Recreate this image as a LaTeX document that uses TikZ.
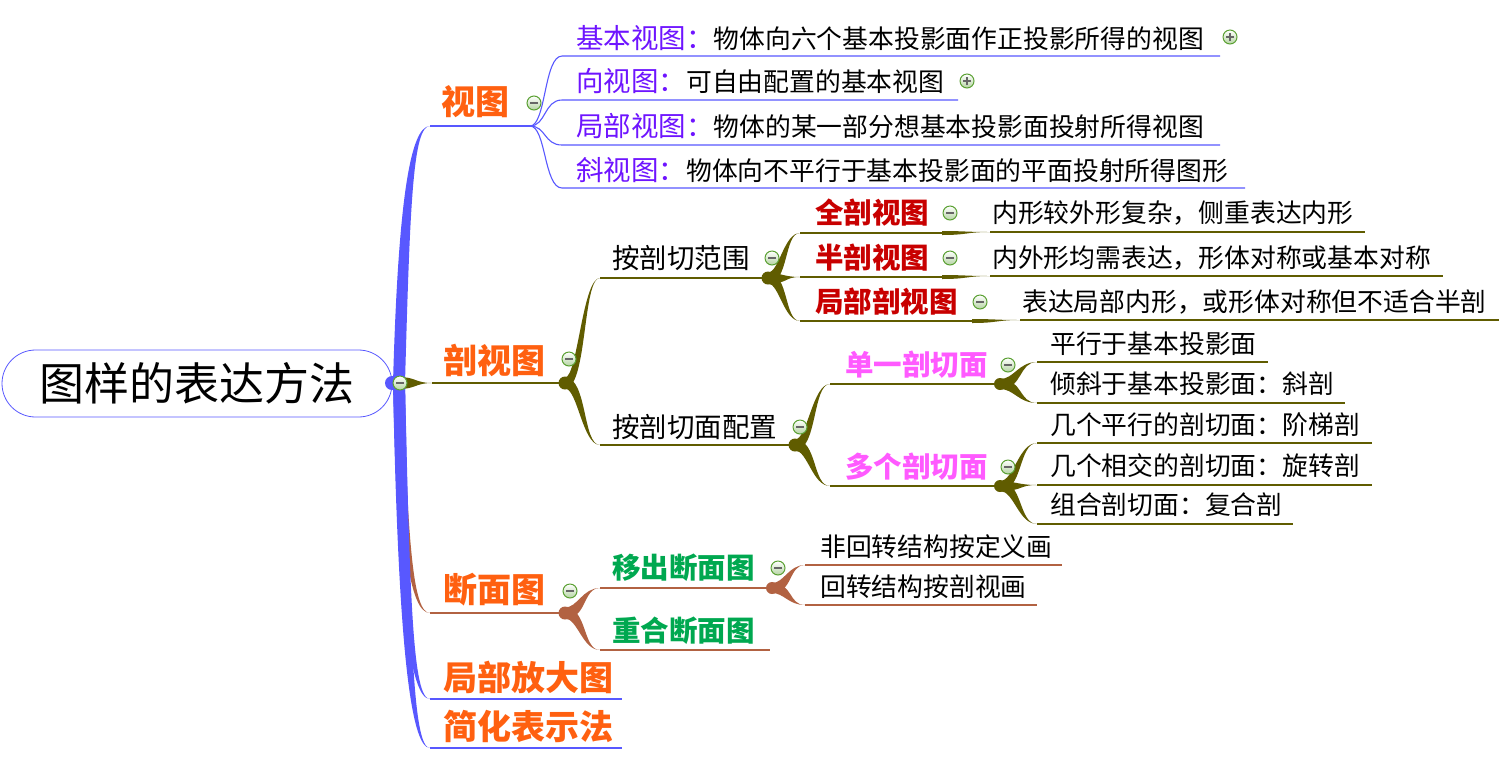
\documentclass[tikz,border=0pt]{standalone}
\usepackage{fontspec}
\newfontfamily\cjk{Noto Sans CJK SC}
\usetikzlibrary{calc}
\definecolor{trunkblue}{RGB}{88,88,255}
\definecolor{olive2}{RGB}{96,92,0}
\definecolor{brownb}{RGB}{178,98,66}
\definecolor{orangeT}{RGB}{255,96,16}
\definecolor{purpT}{RGB}{110,20,255}
\definecolor{redT}{RGB}{200,0,0}
\definecolor{pinkT}{RGB}{255,90,255}
\definecolor{greenT}{RGB}{0,168,80}
\definecolor{iconG}{RGB}{90,160,50}
% tapered branch leaving a junction horizontally
\newcommand\brwedge[4]{%
  \fill[#4] let \p1=(#1), \p2=(#2), \n1={0.5*(\x2-\x1)}, \n2={0.9*#3*sign(\y2-\y1)} in
    (\x1,{\y1+#3}) .. controls ({\x1+\n1-\n2},{\y1+#3}) and ({\x2-\n1},\y2) .. (\x2,\y2)
    .. controls ({\x2-\n1},\y2) and ({\x1+\n1+\n2},{\y1-#3}) .. (\x1,{\y1-#3}) -- cycle;}
% tapered trunk leaving the root vertically
\newcommand\trunkto[4]{%
  \fill[#4] let \p1=(#1), \p2=(#2) in
    ({\x1-#3},\y1) .. controls ({\x1-#3+5},{\y1+0.7*(\y2-\y1)}) and ({\x1+11},\y2) .. (\x2,\y2)
    .. controls ({\x1+14},\y2) and ({\x1+#3+5},{\y1+0.7*(\y2-\y1)}) .. ({\x1+#3},\y1) -- cycle;}
\newcommand\lab[1]{{\fontsize{27.5}{30}\selectfont\color{purpT}#1}}
\begin{document}
\begin{tikzpicture}[x=1pt,y=-1pt,
 every node/.style={inner sep=0pt, anchor=west},
 fA/.style={font=\cjk\bfseries\fontsize{34}{37}\selectfont, text=orangeT},
 fB/.style={font=\cjk\fontsize{25.8}{28}\selectfont, text=black},
 fC/.style={font=\cjk\fontsize{27.5}{30}\selectfont, text=black},
 fR/.style={font=\cjk\bfseries\fontsize{28.5}{30}\selectfont, text=redT},
 fP/.style={font=\cjk\bfseries\fontsize{28.5}{30}\selectfont, text=pinkT},
 fG/.style={font=\cjk\bfseries\fontsize{28.5}{30}\selectfont, text=greenT},
 bl/.style={draw=trunkblue, line width=1.4pt},
 ol/.style={draw=olive2, line width=1.5pt},
 br/.style={draw=brownb, line width=1.5pt},
 icon/.style={circle, draw=iconG, line width=1pt, minimum size=14pt, inner sep=0pt, anchor=center, top color=white, bottom color=iconG!45},
 minus/.style={icon, path picture={\draw[line width=1.3pt,black!60] ([xshift=-4pt]path picture bounding box.center) -- ([xshift=4pt]path picture bounding box.center);}},
 plus/.style={icon, path picture={\draw[line width=1.3pt,black!60] ([xshift=-4pt]path picture bounding box.center) -- ([xshift=4pt]path picture bounding box.center) ([yshift=-4pt]path picture bounding box.center) -- ([yshift=4pt]path picture bounding box.center);}},
]
\useasboundingbox (0,0) rectangle (1511,764);

% ---------- coordinates ----------
\coordinate (rj) at (399,383);
% 视图
\coordinate (stL) at (430,126); \coordinate (stR) at (530,126);
\coordinate (s1L) at (562,56);  \coordinate (s1R) at (1220,56);
\coordinate (s2L) at (562,100); \coordinate (s2R) at (958,100);
\coordinate (s3L) at (562,145); \coordinate (s3R) at (1220,145);
\coordinate (s4L) at (562,188); \coordinate (s4R) at (1245,188);
% 剖视图
\coordinate (pL) at (432,383);  \coordinate (pJ) at (565,383);
\coordinate (aL) at (600,278);  \coordinate (aJ) at (768,278);
\coordinate (qL) at (800,233);  \coordinate (qR) at (942,233);
\coordinate (qlL) at (990,232); \coordinate (qlR) at (1365,232);
\coordinate (bL) at (800,277);  \coordinate (bR) at (942,277);
\coordinate (blL) at (990,276); \coordinate (blR) at (1443,276);
\coordinate (jL) at (800,321);  \coordinate (jR) at (972,321);
\coordinate (jlL) at (1020,320); \coordinate (jlR) at (1499,320);
\coordinate (cL) at (600,445);  \coordinate (cJ) at (795,445);
\coordinate (dL) at (830,384);  \coordinate (dJ) at (1000,384);
\coordinate (d1L) at (1037,362); \coordinate (d1R) at (1268,362);
\coordinate (d2L) at (1037,403); \coordinate (d2R) at (1345,403);
\coordinate (mL) at (830,486);  \coordinate (mJ) at (1000,486);
\coordinate (m1L) at (1037,443); \coordinate (m1R) at (1372,443);
\coordinate (m2L) at (1037,485); \coordinate (m2R) at (1372,485);
\coordinate (m3L) at (1037,524); \coordinate (m3R) at (1293,524);
% 断面图
\coordinate (uL) at (430,613);  \coordinate (uJ) at (565,613);
\coordinate (yL) at (600,588);  \coordinate (yJ) at (772,588);
\coordinate (y1L) at (805,565); \coordinate (y1R) at (1062,565);
\coordinate (y2L) at (805,605); \coordinate (y2R) at (1037,605);
\coordinate (zL) at (600,650);  \coordinate (zR) at (770,650);
% others
\coordinate (fL) at (430,699);  \coordinate (fR) at (622,699);
\coordinate (hL) at (430,748);  \coordinate (hR) at (622,748);

% ---------- connectors ----------
% brown
\trunkto{rj}{uL}{4}{brownb}
\draw[br] (uL) -- (uJ);
\fill[brownb] (uJ) circle (6.5pt);
\brwedge{uJ}{yL}{5.5}{brownb} \draw[br] (yL) -- (yJ);
\brwedge{uJ}{zL}{5.5}{brownb} \draw[br] (zL) -- (zR);
\fill[brownb] (yJ) circle (6pt);
\brwedge{yJ}{y1L}{5}{brownb} \draw[br] (y1L) -- (y1R);
\brwedge{yJ}{y2L}{5}{brownb} \draw[br] (y2L) -- (y2R);
% olive
\brwedge{rj}{pL}{6}{olive2}
\draw[ol] (pL) -- (pJ);
\fill[olive2] (pJ) circle (6.5pt);
\brwedge{pJ}{aL}{5.5}{olive2} \draw[ol] (aL) -- (aJ);
\brwedge{pJ}{cL}{5.5}{olive2} \draw[ol] (cL) -- (cJ);
\fill[olive2] (aJ) circle (6.5pt);
\brwedge{aJ}{qL}{5.5}{olive2} \draw[ol] (qL) -- (qR);
\brwedge{aJ}{bL}{5.5}{olive2} \draw[ol] (bL) -- (bR);
\brwedge{aJ}{jL}{5.5}{olive2} \draw[ol] (jL) -- (jR);
\brwedge{qR}{qlL}{2}{olive2} \draw[ol] (qlL) -- (qlR);
\brwedge{bR}{blL}{2}{olive2} \draw[ol] (blL) -- (blR);
\brwedge{jR}{jlL}{2}{olive2} \draw[ol] (jlL) -- (jlR);
\fill[olive2] (cJ) circle (6.5pt);
\brwedge{cJ}{dL}{5.5}{olive2} \draw[ol] (dL) -- (dJ);
\brwedge{cJ}{mL}{5.5}{olive2} \draw[ol] (mL) -- (mJ);
\fill[olive2] (dJ) circle (6pt);
\brwedge{dJ}{d1L}{5}{olive2} \draw[ol] (d1L) -- (d1R);
\brwedge{dJ}{d2L}{5}{olive2} \draw[ol] (d2L) -- (d2R);
\fill[olive2] (mJ) circle (6pt);
\brwedge{mJ}{m1L}{5}{olive2} \draw[ol] (m1L) -- (m1R);
\brwedge{mJ}{m2L}{5}{olive2} \draw[ol] (m2L) -- (m2R);
\brwedge{mJ}{m3L}{5}{olive2} \draw[ol] (m3L) -- (m3R);
% blue
\trunkto{rj}{stL}{6}{trunkblue}
\trunkto{rj}{fL}{6}{trunkblue}
\trunkto{rj}{hL}{6}{trunkblue}
\draw[bl] (stL) -- (stR);
\draw[bl] (fL) -- (fR);
\draw[bl] (hL) -- (hR);
\draw[bl, line width=1.1pt] (stR) .. controls +(16,0) and +(-18,0) .. (s1L) -- (s1R);
\draw[bl, line width=1.1pt] (stR) .. controls +(16,0) and +(-18,0) .. (s2L) -- (s2R);
\draw[bl, line width=1.1pt] (stR) .. controls +(16,0) and +(-18,0) .. (s3L) -- (s3R);
\draw[bl, line width=1.1pt] (stR) .. controls +(16,0) and +(-18,0) .. (s4L) -- (s4R);
\fill[trunkblue] (392,383) circle (7pt);

% ---------- nodes ----------
\node[draw=trunkblue, line width=0.8pt, rounded corners=33.5pt, minimum width=390pt, minimum height=67pt, anchor=center, font=\cjk\fontsize{45}{48}\selectfont] (root) at (197,383.5) {图样的表达方法};

\node[fA] (shitu) at (441,102) {视图};
\node[fA] (pou) at (443,360) {剖视图};
\node[fA] (duan) at (443,590) {断面图};
\node[fA] (fangda) at (443,677) {局部放大图};
\node[fA] (jianhua) at (443,726) {简化表示法};

\node[fB] (s1) at (576,38) {\lab{基本视图：}物体向六个基本投影面作正投影所得的视图};
\node[fB] (s2) at (576,81) {\lab{向视图：}可自由配置的基本视图};
\node[fB] (s3) at (576,126) {\lab{局部视图：}物体的某一部分想基本投影面投射所得视图};
\node[fB] (s4) at (576,170) {\lab{斜视图：}物体向不平行于基本投影面的平面投射所得图形};

\node[fC] (an1) at (612,258) {按剖切范围};
\node[fC] (an2) at (612,427) {按剖切面配置};
\node[fR] (quan) at (815,213) {全剖视图};
\node[fR] (ban) at (815,258) {半剖视图};
\node[fR] (jubu) at (815,302) {局部剖视图};
\node[fB] (ql) at (992,213) {内形较外形复杂，侧重表达内形};
\node[fB] (bl) at (992,258) {内外形均需表达，形体对称或基本对称};
\node[fB] (jl) at (1022,302) {表达局部内形，或形体对称但不适合半剖};
\node[fP] (danyi) at (845,365) {单一剖切面};
\node[fP] (duoge) at (845,467) {多个剖切面};
\node[fB] (d1) at (1050,344) {平行于基本投影面};
\node[fB] (d2) at (1050,384) {倾斜于基本投影面：斜剖};
\node[fB] (m1) at (1050,425) {几个平行的剖切面：阶梯剖};
\node[fB] (m2) at (1050,466) {几个相交的剖切面：旋转剖};
\node[fB] (m3) at (1050,505) {组合剖切面：复合剖};

\node[fG] (yichu) at (612,568) {移出断面图};
\node[fG] (chonghe) at (612,631) {重合断面图};
\node[fB] (y1) at (820,547) {非回转结构按定义画};
\node[fB] (y2) at (820,587) {回转结构按剖视画};

% ---------- expand / collapse marks ----------
\node[minus] (i0) at (400,383) {};
\node[minus] (i1) at (534,103) {};
\node[plus]  (i2) at (1230,37) {};
\node[plus]  (i3) at (967,81) {};
\node[minus] (i4) at (569,359) {};
\node[minus] (i5) at (772,258) {};
\node[minus] (i6) at (950,213) {};
\node[minus] (i7) at (950,258) {};
\node[minus] (i8) at (980,302) {};
\node[minus] (i9) at (800,427) {};
\node[minus] (i10) at (1008,365) {};
\node[minus] (i11) at (1008,467) {};
\node[minus] (i12) at (570,591) {};
\node[minus] (i13) at (778,568) {};
\end{tikzpicture}
\end{document}
